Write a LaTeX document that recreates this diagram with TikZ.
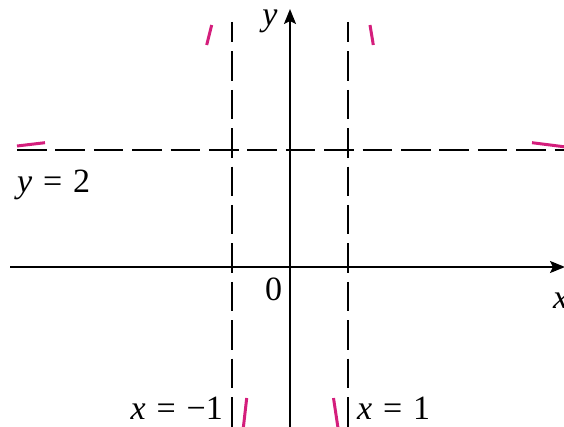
\documentclass[tikz,border=0pt]{standalone}
\usepackage{fontspec}
\setmainfont{Liberation Serif}
\usetikzlibrary{arrows.meta}
\definecolor{mag}{RGB}{212,30,124}
\newcommand{\eqsp}{\hspace{0.32em}}
\tikzset{
  axis/.style={line width=2pt, -{Stealth[length=15pt,width=12pt,inset=3pt]}},
  asym/.style={line width=2.7pt, dash pattern=on 29.5pt off 8.9pt},
  branch/.style={mag, line width=3pt},
  lbl/.style={inner sep=0pt, font=\fontsize{34}{38}\selectfont},
}
\begin{document}
\begin{tikzpicture}[x=1pt,y=-1pt]
\useasboundingbox (0,0) rectangle (564,427);
% coordinates
\coordinate (xs) at (10,267);
\coordinate (xe) at (565,267);
\coordinate (ys) at (290,427);
\coordinate (ye) at (290,9);
\coordinate (l1t) at (232,22);
\coordinate (l1b) at (232,427);
\coordinate (l2t) at (348,22);
\coordinate (l2b) at (348,427);
\coordinate (hs) at (17,150);
\coordinate (he) at (564,150);
% asymptotes
\draw[asym, dash phase=9pt] (l1t) -- (l1b);
\draw[asym, dash phase=9pt] (l2t) -- (l2b);
\draw[asym] (hs) -- (he);
% axes
\draw[axis] (xs) -- (xe);
\draw[axis] (ys) -- (ye);
% branch pieces
\coordinate (a1) at (206.7,45); \coordinate (a2) at (211.7,25);
\coordinate (b1) at (373.3,45); \coordinate (b2) at (370,25);
\coordinate (c1) at (45,142.7); \coordinate (c2) at (17,146);
\coordinate (d1) at (532,142.7); \coordinate (d2) at (566,147);
\coordinate (e1) at (246.7,398); \coordinate (e2) at (243.3,428);
\coordinate (f1) at (333.5,398); \coordinate (f2) at (338,428);
\draw[branch] (a1) -- (a2);
\draw[branch] (b1) -- (b2);
\draw[branch] (c1) -- (c2);
\draw[branch] (d1) -- (d2);
\draw[branch] (e1) -- (e2);
\draw[branch] (f1) -- (f2);
% labels
\node[lbl, anchor=base west] (ly2) at (17,193) {\textit{y}\eqsp=\eqsp2};
\node[lbl, anchor=base east] (lxm1) at (223,419) {\textit{x}\eqsp=\eqsp−1};
\node[lbl, anchor=base west] (lx1) at (357,419) {\textit{x}\eqsp=\eqsp1};
\node[lbl, anchor=base] (lo) at (273.5,300) {0};
\node[lbl, anchor=base] (lyax) at (270,26) {\textit{y}};
\node[lbl, anchor=base west] (lxax) at (553,308) {\textit{x}};
\end{tikzpicture}
\end{document}
